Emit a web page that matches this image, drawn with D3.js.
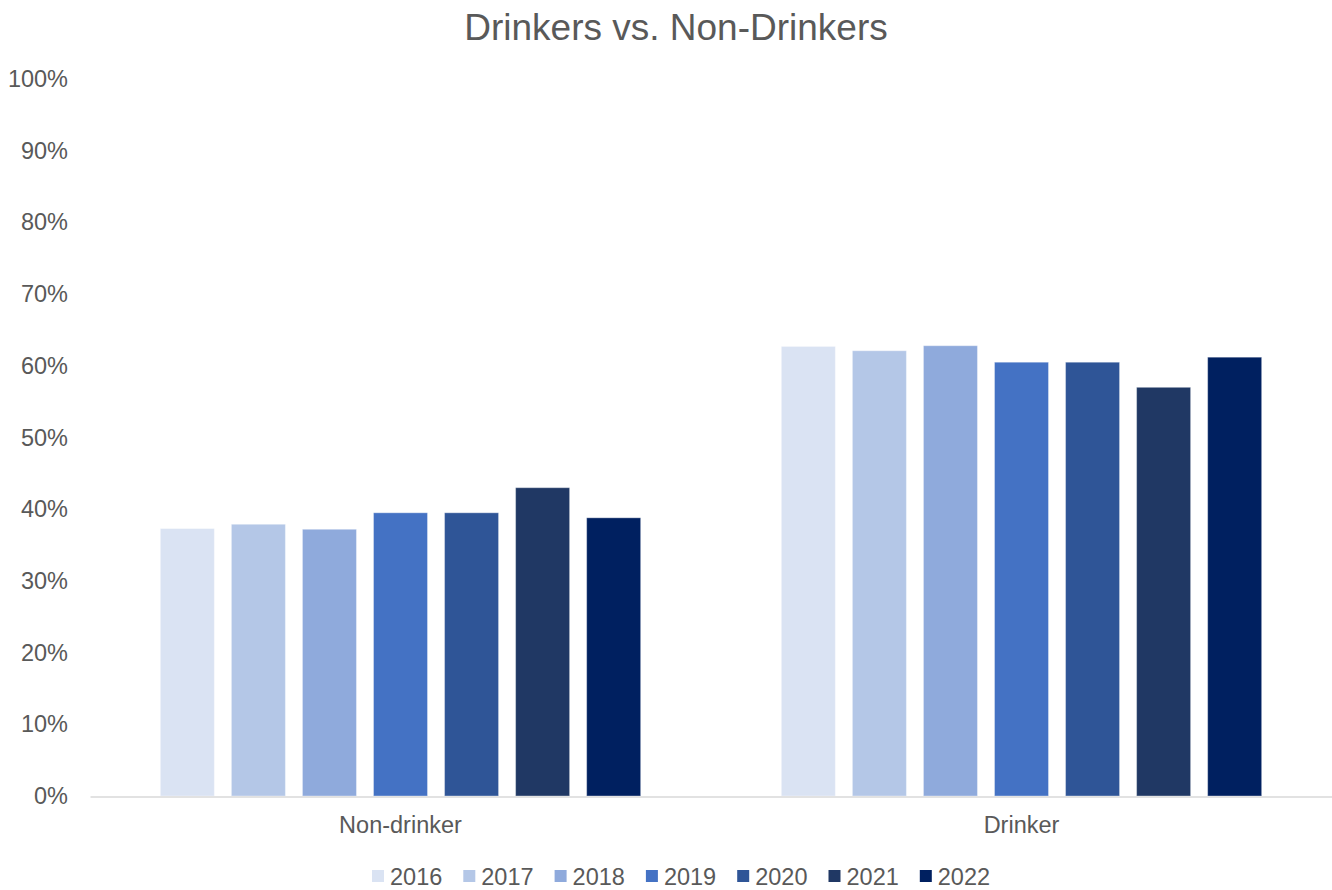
<!DOCTYPE html>
<html>
<head>
<meta charset="utf-8">
<script src="https://cdn.jsdelivr.net/npm/d3@7"></script>
<style>
  html, body { margin: 0; padding: 0; background: #fff; }
  svg { display: block; font-family: "Liberation Sans", Arial, sans-serif; }
</style>
</head>
<body>
<svg id="chart" width="1332" height="890"></svg>
<script>
// Share of respondents by drinking status, per survey year (%)
const categories = ["Non-drinker", "Drinker"];
const years = ["2016", "2017", "2018", "2019", "2020", "2021", "2022"];
const nonDrinker = [37.3, 37.9, 37.2, 39.5, 39.5, 43.0, 38.8];
const drinker    = [62.7, 62.1, 62.8, 60.5, 60.5, 57.0, 61.2];
const yTicks = [0, 10, 20, 30, 40, 50, 60, 70, 80, 90, 100];
const colors = ["#DAE3F3", "#B4C7E7", "#8FAADC", "#4472C4", "#2F5597", "#203864", "#002060"];

const seriesByCategory = { "Non-drinker": nonDrinker, "Drinker": drinker };

const svg = d3.select("#chart");
const textColor = "#595959";
const font = "'Liberation Sans', Arial, sans-serif";

const x0 = d3.scaleBand().domain(categories).range([90, 1332]).paddingInner(0).paddingOuter(0);
const x1 = d3.scaleBand().domain(years).range([0, x0.bandwidth()]).paddingInner(0.24).paddingOuter(0.99);
const y = d3.scaleLinear().domain([0, 100]).range([796, 79]);
const color = d3.scaleOrdinal().domain(years).range(colors);

// Title
svg.append("text")
  .attr("x", 676).attr("y", 40)
  .attr("text-anchor", "middle")
  .attr("fill", textColor)
  .attr("font-size", 37)
  .text("Drinkers vs. Non-Drinkers");

// Y axis labels (no axis line)
const yAxis = d3.axisLeft(y).tickValues(yTicks).tickSize(0).tickPadding(0).tickFormat(d => d + "%");
const yg = svg.append("g").attr("transform", "translate(68,0)").call(yAxis);
yg.select(".domain").remove();
yg.selectAll("text").attr("fill", textColor).attr("font-size", 23.5).attr("font-family", font);

// Bars
const groups = svg.append("g").selectAll("g")
  .data(categories).join("g")
  .attr("transform", d => `translate(${x0(d)},0)`);

groups.selectAll("rect")
  .data(c => years.map((yr, i) => ({ year: yr, value: seriesByCategory[c][i] })))
  .join("rect")
  .attr("x", d => x1(d.year))
  .attr("width", x1.bandwidth())
  .attr("y", d => y(d.value))
  .attr("height", d => y(0) - y(d.value))
  .attr("fill", d => color(d.year))
  .attr("stroke", "#ffffff")
  .attr("stroke-opacity", 0.35)
  .attr("stroke-width", 1);

// X axis
const xAxis = d3.axisBottom(x0).tickSize(0).tickPadding(20);
const xg = svg.append("g").attr("transform", "translate(0,796.5)").call(xAxis);
xg.select(".domain").attr("stroke", "#D9D9D9").attr("stroke-width", 1.5);
xg.selectAll("text").attr("fill", textColor).attr("font-size", 23.5).attr("font-family", font);

// Legend
const legend = svg.append("g").attr("transform", "translate(372,876)");
const item = legend.selectAll("g").data(years).join("g")
  .attr("transform", (d, i) => `translate(${i * 91.3},0)`);
item.append("rect")
  .attr("x", 0).attr("y", -6)
  .attr("width", 12).attr("height", 12)
  .attr("fill", d => color(d));
item.append("text")
  .attr("x", 18).attr("y", 8.5)
  .attr("fill", textColor)
  .attr("font-size", 23.5)
  .text(d => d);
</script>
</body>
</html>
